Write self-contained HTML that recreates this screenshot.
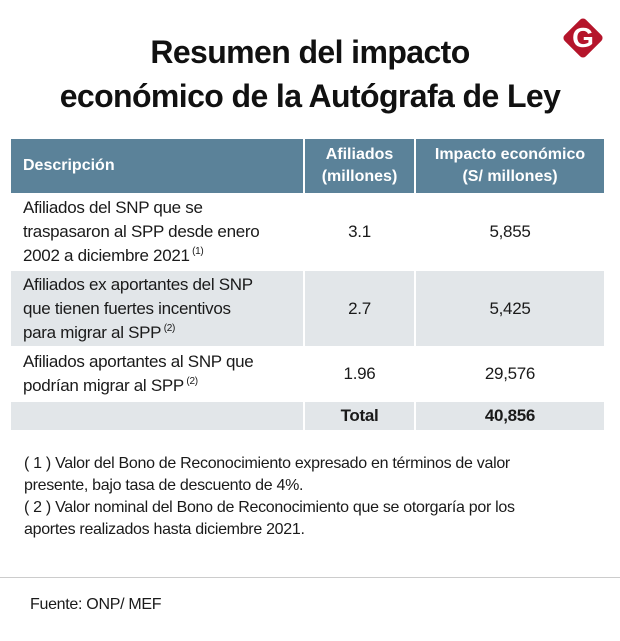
<!DOCTYPE html>
<html><head><meta charset="utf-8"><style>
*{margin:0;padding:0;box-sizing:border-box}
body{width:620px;height:641px;background:#fff;position:relative;overflow:hidden;font-family:"Liberation Sans",sans-serif;color:#1a1a1a}
.a{position:absolute}
h1{position:absolute;left:0;width:620px;top:30px;text-align:center;font-size:32px;line-height:44px;font-weight:bold;letter-spacing:-0.6px;color:#111}
.cell{position:absolute;display:flex;align-items:center}
.hd{background:#5b8299;color:#fff;font-weight:bold;font-size:16px;line-height:22px}
.g{background:#e2e6e9}
.t{font-size:17px;line-height:24px;letter-spacing:-0.3px}
sup{font-size:10px;vertical-align:7px;line-height:0}
.c{justify-content:center;text-align:center}
</style></head><body>
<h1>Resumen del impacto<br>económico de la Autógrafa de Ley</h1>
<div class="a" style="left:568px;top:23px;width:30px;height:30px;background:#b5152b;border-radius:4px;transform:rotate(45deg)"></div>
<div class="a" style="left:568px;top:20px;width:30px;text-align:center;color:#fff;font-weight:bold;font-size:28px;line-height:36px">G</div>

<div class="cell hd" style="left:11px;top:139px;width:292px;height:54px;padding-left:12px">Descripción</div>
<div class="cell hd c" style="left:305px;top:139px;width:109px;height:54px">Afiliados<br>(millones)</div>
<div class="cell hd c" style="left:416px;top:139px;width:188px;height:54px">Impacto económico<br>(S/ millones)</div>

<div class="cell t" style="left:11px;top:194px;width:292px;height:75px;padding-left:12px"><div>Afiliados del SNP que se<br>traspasaron al SPP desde enero<br>2002 a diciembre 2021<sup> (1)</sup></div></div>
<div class="cell t c" style="left:305px;top:194px;width:109px;height:75px">3.1</div>
<div class="cell t c" style="left:416px;top:194px;width:188px;height:75px">5,855</div>

<div class="cell t g" style="left:11px;top:271px;width:292px;height:75px;padding-left:12px"><div>Afiliados ex aportantes del SNP<br>que tienen fuertes incentivos<br>para migrar al SPP<sup> (2)</sup></div></div>
<div class="cell t g c" style="left:305px;top:271px;width:109px;height:75px">2.7</div>
<div class="cell t g c" style="left:416px;top:271px;width:188px;height:75px">5,425</div>

<div class="cell t" style="left:11px;top:347px;width:292px;height:54px;padding-left:12px"><div>Afiliados aportantes al SNP que<br>podrían migrar al SPP<sup> (2)</sup></div></div>
<div class="cell t c" style="left:305px;top:347px;width:109px;height:54px">1.96</div>
<div class="cell t c" style="left:416px;top:347px;width:188px;height:54px">29,576</div>

<div class="cell g" style="left:11px;top:402px;width:292px;height:28px"></div>
<div class="cell t g c" style="left:305px;top:402px;width:109px;height:28px;font-weight:bold">Total</div>
<div class="cell t g c" style="left:416px;top:402px;width:188px;height:28px;font-weight:bold">40,856</div>

<div class="a t" style="left:24px;top:453px;width:590px;font-size:16px;line-height:22px">( 1 ) Valor del Bono de Reconocimiento expresado en términos de valor<br>presente, bajo tasa de descuento de 4%.<br>( 2 ) Valor nominal del Bono de Reconocimiento que se otorgaría por los<br>aportes realizados hasta diciembre 2021.</div>
<div class="a" style="left:0;top:577px;width:620px;height:1px;background:#ccc"></div>
<div class="a t" style="left:30px;top:593px;font-size:16px">Fuente: ONP/ MEF</div>
</body></html>
